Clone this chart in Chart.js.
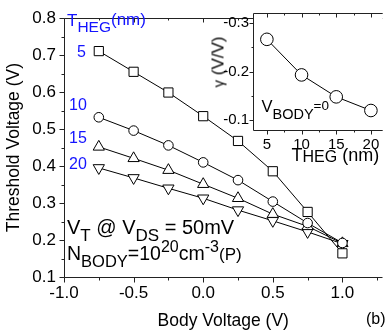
<!DOCTYPE html>
<html>
<head>
<meta charset="utf-8">
<script src="https://cdn.jsdelivr.net/npm/chart.js@4.4.0/dist/chart.umd.min.js"></script>
<style>
  html, body { margin: 0; padding: 0; background: #fff; overflow: hidden; }
  #wrap { position: relative; width: 390px; height: 335px; }
  #main { position: absolute; left: 0; top: 0; }
  #inset { position: absolute; left: 190px; top: 0; }
  .lbl { position: absolute; font-family: "Liberation Sans", Arial, sans-serif; white-space: nowrap; line-height: 1; color: #000; }
  .blue { color: #1414ff; }
  .s { position: relative; line-height: 0; }
</style>
</head>
<body>
<div id="wrap">
  <canvas id="main" width="390" height="335"></canvas>
  <canvas id="inset" width="200" height="160"></canvas>

  <div class="lbl blue" style="left:67px;top:12px;font-size:17px">T<span class="s" style="font-size:15.5px;top:6px">HEG</span><span class="s" style="top:-1px">(nm)</span></div>
  <div class="lbl blue" style="left:77px;top:43.5px;font-size:16px">5</div>
  <div class="lbl blue" style="left:69px;top:96.5px;font-size:16px">10</div>
  <div class="lbl blue" style="left:69px;top:130px;font-size:16px">15</div>
  <div class="lbl blue" style="left:69px;top:155.5px;font-size:16px">20</div>

  <div class="lbl" style="left:67px;top:216.5px;font-size:20px">V<span class="s" style="font-size:17px;top:7px">T</span> @ V<span class="s" style="font-size:17px;top:7px">DS</span> = 50mV</div>
  <div class="lbl" style="left:67px;top:244px;font-size:19.5px">N<span class="s" style="font-size:16.5px;top:7px">BODY</span>=10<span class="s" style="font-size:16px;top:-8px">20</span>cm<span class="s" style="font-size:16px;top:-8px">-3</span><span style="font-size:17px">(P)</span></div>

  <div class="lbl" style="left:261.5px;top:98px;font-size:16.5px">V<span class="s" style="font-size:14.5px;top:7px">BODY</span><span class="s" style="font-size:13.5px;top:-2px">=0</span></div>
  <div class="lbl" style="left:291.5px;top:145.5px;font-size:18px">T<span class="s" style="font-size:16px;top:1px">HEG</span> (nm)</div>
  <div class="lbl" style="left:218px;top:62px;font-size:17px;transform:translate(-50%,-50%) rotate(-90deg)"><span style="font-size:15px">γ</span> (V/V)</div>

  <div class="lbl" style="left:366px;top:311px;font-size:16px">(b)</div>
</div>

<script>
// main plot: threshold voltage vs body voltage, one series per T_HEG
const bodyVoltage = [-0.75, -0.5, -0.25, 0.0, 0.25, 0.5, 0.75, 1.0]
const vtTheg5 = [0.711, 0.655, 0.599, 0.535, 0.468, 0.386, 0.276, 0.164]
const vtTheg10 = [0.532, 0.496, 0.456, 0.410, 0.362, 0.304, 0.246, 0.192]
const vtTheg15 = [0.452, 0.421, 0.389, 0.351, 0.313, 0.270, 0.237, 0.191]
const vtTheg20 = [0.395, 0.368, 0.340, 0.313, 0.281, 0.252, 0.222, 0.190]

const voltTicks = [-1.0, -0.5, 0.0, 0.5, 1.0]
const voltMinor = [-0.75, -0.25, 0.25, 0.75, 1.25]
const vtTicks = [0.1, 0.2, 0.3, 0.4, 0.5, 0.6, 0.7, 0.8]
const vtMinor = [0.15, 0.25, 0.35, 0.45, 0.55, 0.65, 0.75]

// inset: body factor gamma vs T_HEG at V_BODY = 0
const thegNm = [5, 10, 15, 20]
const gammaVals = [-0.266, -0.193, -0.148, -0.120]
const thegTicks = [5, 10, 15, 20]
const thegMinor = [7.5, 12.5, 17.5]
const gammaTicks = [-0.3, -0.2, -0.1]
const gammaMinor = [-0.25, -0.15]

Chart.defaults.font.family = '"Liberation Sans", Arial, sans-serif'
Chart.defaults.color = '#000'

const pts = (xs, ys) => xs.map((x, i) => ({ x, y: ys[i] }))

// draws left/bottom/top frame lines and ticks (right side is cut off in the picture)
const frame = {
  id: 'frame',
  beforeDraw(chart, args, o) {
    if (!o.fill) return
    const { ctx, chartArea: a } = chart
    ctx.save()
    ctx.fillStyle = '#fff'
    ctx.fillRect(a.left, a.top, a.right - a.left, a.bottom - a.top)
    ctx.restore()
  },
  afterDraw(chart, args, o) {
    const { ctx, chartArea: a, scales: { x, y } } = chart
    const L = Math.round(a.left) + 0.5, B = Math.round(a.bottom) + 0.5, T = Math.round(a.top) + 0.5, R = a.right
    ctx.save()
    ctx.strokeStyle = '#222'
    ctx.lineWidth = 1
    ctx.beginPath()
    ctx.moveTo(R, T); ctx.lineTo(L, T); ctx.lineTo(L, B); ctx.lineTo(R, B)
    const xt = (vals, len, topLen) => vals.forEach(v => {
      const px = Math.round(x.getPixelForValue(v)) + 0.5
      ctx.moveTo(px, B); ctx.lineTo(px, B + len)
      ctx.moveTo(px, T); ctx.lineTo(px, T + topLen)
    })
    const yt = (vals, len) => vals.forEach(v => {
      const py = Math.round(y.getPixelForValue(v)) + 0.5
      ctx.moveTo(L, py); ctx.lineTo(L - len, py)
    })
    xt(o.xMajor, o.major, 4); xt(o.xMinor, o.minor, 2)
    yt(o.yMajor, o.major); yt(o.yMinor, o.minor)
    ctx.stroke()
    ctx.restore()
  }
}

const series = (data, style, radius, rot) => ({
  data, showLine: true, borderColor: '#000', borderWidth: 1,
  pointStyle: style, pointRadius: radius, pointRotation: rot || 0,
  pointBackgroundColor: '#fff', pointBorderColor: '#000', pointBorderWidth: 1, clip: false
})

new Chart(document.getElementById('main'), {
  type: 'scatter',
  data: {
    datasets: [
      series(pts(bodyVoltage, vtTheg5), 'rect', 6.5),
      series(pts(bodyVoltage, vtTheg10), 'circle', 4.8),
      series(pts(bodyVoltage, vtTheg15), 'triangle', 6.5),
      series(pts(bodyVoltage, vtTheg20), 'triangle', 6.5, 180)
    ]
  },
  options: {
    responsive: false, animation: false, devicePixelRatio: 1, events: [],
    layout: { padding: { top: 11, right: 0, left: 0, bottom: 0 } },
    plugins: {
      legend: { display: false }, tooltip: { enabled: false },
      frame: { xMajor: voltTicks, xMinor: voltMinor, yMajor: vtTicks, yMinor: vtMinor, major: 5, minor: 3 }
    },
    scales: {
      x: {
        type: 'linear', min: -1.0, max: 1.288,
        grid: { display: false, drawTicks: false }, border: { display: false },
        afterBuildTicks: s => { s.ticks = voltTicks.map(v => ({ value: v })) },
        afterFit: s => { s.height = 58 },
        ticks: { font: { size: 17 }, padding: 6, maxRotation: 0, callback: v => v.toFixed(1) },
        title: { display: true, text: 'Body Voltage (V)', font: { size: 17.5 }, padding: { top: 0, bottom: 3 } }
      },
      y: {
        min: 0.1, max: 0.8,
        grid: { display: false, drawTicks: false }, border: { display: false },
        afterBuildTicks: s => { s.ticks = vtTicks.map(v => ({ value: v })) },
        afterFit: s => { s.width = 64 },
        ticks: { font: { size: 17 }, padding: 8, callback: v => v.toFixed(1) },
        title: { display: true, text: 'Threshold Voltage (V)', font: { size: 17.5 }, padding: { top: 3.5, bottom: 0 } }
      }
    }
  },
  plugins: [frame]
})

new Chart(document.getElementById('inset'), {
  type: 'scatter',
  data: { datasets: [series(pts(thegNm, gammaVals), 'circle', 6.3)] },
  options: {
    responsive: false, animation: false, devicePixelRatio: 1, events: [],
    layout: { padding: { top: 11, right: 0, left: 0, bottom: 0 } },
    plugins: {
      legend: { display: false }, tooltip: { enabled: false },
      frame: { fill: true, xMajor: thegTicks, xMinor: thegMinor, yMajor: gammaTicks, yMinor: gammaMinor, major: 4, minor: 2 }
    },
    scales: {
      x: {
        type: 'linear', min: 3, max: 21.7,
        grid: { display: false, drawTicks: false }, border: { display: false },
        afterBuildTicks: s => { s.ticks = thegTicks.map(v => ({ value: v })) },
        afterFit: s => { s.height = 30 },
        ticks: { font: { size: 15 }, padding: 6, maxRotation: 0, callback: v => String(v) }
      },
      y: {
        min: -0.32, max: -0.08, reverse: true,
        grid: { display: false, drawTicks: false }, border: { display: false },
        afterBuildTicks: s => { s.ticks = gammaTicks.map(v => ({ value: v })) },
        afterFit: s => { s.width = 63 },
        ticks: { font: { size: 15 }, padding: 4, callback: v => v.toFixed(1) }
      }
    }
  },
  plugins: [frame]
})
</script>
</body>
</html>
